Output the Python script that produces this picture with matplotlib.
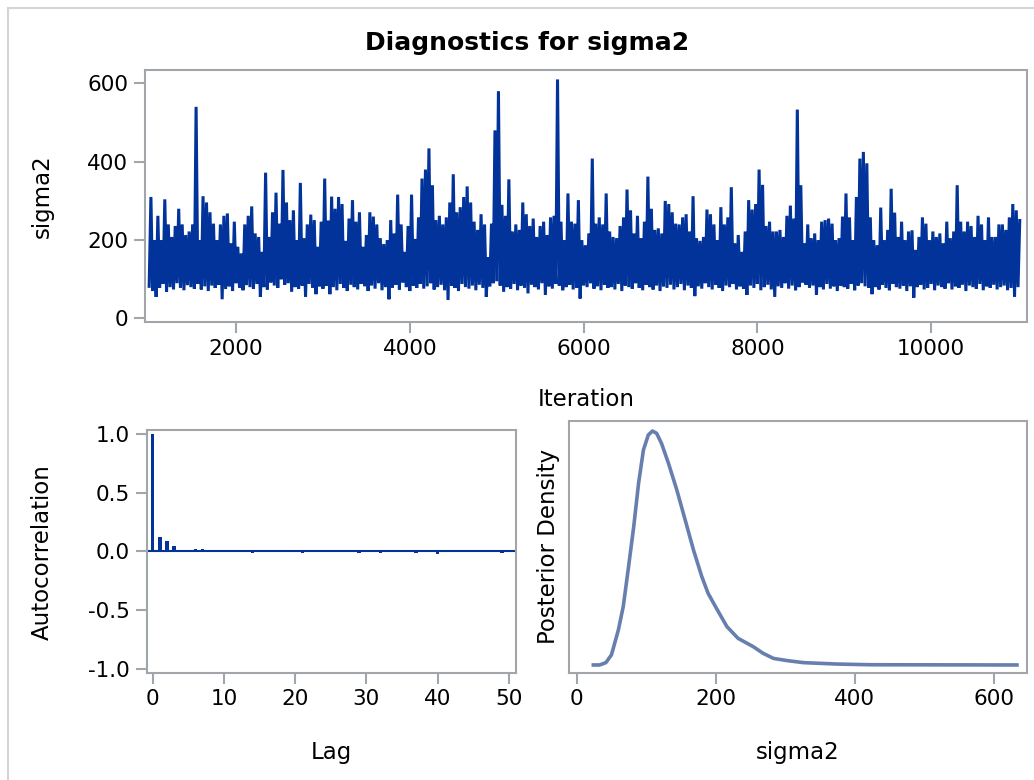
import numpy as np
import matplotlib
matplotlib.use("Agg")
from matplotlib import pyplot as plt
from matplotlib.lines import Line2D

plt.rcParams['font.family'] = ['DejaVu Sans']
plt.rcParams['axes.unicode_minus'] = False

# trace of sigma2: per 40-iteration block, the top and bottom of the band
trace_hi = [
    310, 200, 262, 200, 304, 240, 208, 236, 280, 240,
    213, 222, 240, 540, 200, 312, 296, 271, 242, 200,
    240, 262, 268, 192, 247, 183, 166, 240, 262, 286,
    217, 208, 170, 372, 208, 271, 321, 242, 379, 296,
    251, 276, 200, 346, 205, 240, 265, 251, 183, 247,
    357, 250, 311, 280, 310, 292, 198, 255, 302, 247,
    271, 183, 213, 271, 260, 240, 205, 190, 200, 251,
    217, 316, 240, 170, 236, 316, 203, 258, 357, 380,
    434, 340, 251, 262, 240, 258, 296, 368, 271, 284,
    310, 337, 296, 247, 226, 266, 240, 156, 242, 480,
    580, 290, 262, 355, 222, 240, 226, 296, 266, 236,
    255, 208, 236, 247, 213, 258, 262, 610, 247, 200,
    319, 247, 242, 302, 200, 187, 217, 408, 242, 258,
    240, 319, 222, 208, 205, 236, 258, 329, 276, 217,
    262, 205, 247, 362, 280, 226, 230, 217, 300, 292,
    271, 242, 240, 258, 266, 222, 312, 205, 198, 208,
    278, 266, 240, 200, 284, 240, 258, 335, 192, 213,
    170, 222, 302, 278, 292, 380, 341, 236, 247, 222,
    222, 226, 208, 262, 288, 255, 533, 340, 192, 240,
    205, 217, 200, 247, 251, 255, 242, 200, 205, 260,
    319,
    258, 200, 310, 408, 425, 396, 258, 200, 187, 283,
    200, 226, 331, 270, 208, 247, 200, 222, 225, 175,
    208, 258, 242, 200, 222, 208, 217, 192, 247, 205,
    222, 340, 247, 222, 247, 236, 208, 262, 240, 200,
    258, 208, 208, 240, 240, 226, 258, 292, 276, 250,
]
trace_lo = [
    82, 70, 55, 78, 88, 68, 80, 74, 90, 78,
    72, 85, 80, 76, 88, 74, 82, 70, 84, 78,
    86, 49, 75, 82, 70, 90, 78, 72, 85, 80,
    76, 88, 55, 80, 74, 92, 84, 78, 100, 86,
    90, 68, 80, 76, 84, 55, 88, 78, 62, 82,
    76, 84, 62, 80, 72, 88, 78, 70, 86, 80,
    74, 88, 82, 70, 84, 76, 90, 72, 80, 49,
    78, 86, 74, 92, 80, 70, 84, 78, 88, 76,
    82, 90, 74, 80, 86, 72, 47, 84, 78, 70,
    88, 80, 76, 84, 72, 86, 78, 55, 82, 90,
    95, 84, 68, 80, 76, 88, 72, 84, 78, 64,
    86, 80, 74, 90, 60, 82, 76, 88, 84, 72,
    80, 86, 74, 78, 51, 84, 80, 90, 76, 82,
    72, 86, 78, 80, 74, 88, 70, 84, 80, 76,
    90, 78, 72, 86, 80, 74, 84, 70, 82, 78,
    86, 74, 80, 88, 72, 84, 78, 57, 82, 76,
    90, 80, 74, 86, 78, 70, 84, 80, 88, 74,
    82, 76, 60, 84, 78, 88, 72, 80, 86, 74,
    55, 82, 78, 90, 76, 84, 72, 80, 92, 86,
    78, 84, 60, 80, 74, 88, 76, 82, 70, 84,
    80,
    76, 88, 72, 84, 90, 82, 78, 62, 80, 74,
    86, 78, 72, 88, 80, 76, 84, 70, 82, 53,
    80, 86, 74, 78, 88, 72, 84, 80, 76, 90,
    74, 82, 78, 86, 70, 84, 80, 76, 88, 72,
    82, 78, 86, 74, 80, 84, 72, 78, 55, 80,
]
first_iter = 1000
block = 40

lags = list(range(51))
acf = [
    1.0, 0.123, 0.091, 0.043, 0.014, 0.015, 0.02, 0.02, 0.012, 0.002,
    0.004, 0.01, 0.001, 0.004, -0.01, 0.002, -0.004, 0.012, 0.01, 0.012,
    0.002, -0.012, 0.001, 0.002, 0.002, 0.004, 0.005, 0.001, 0.001, -0.01,
    0.002, -0.008, -0.018, -0.006, 0.001, 0.015, -0.005, -0.014, 0.002, 0.001,
    -0.02, 0.012, 0.003, 0.01, 0.002, -0.003, 0.005, 0.003, 0.002, -0.01,
    0.01,
]

dens_x = [24, 33, 42, 50, 60, 67, 74, 82, 89, 96, 103, 109, 115, 122, 132, 144,
          156, 168, 180, 189, 201, 216, 232, 254, 268, 283, 302, 326, 374, 422, 633]
dens_y = [0, 0, 0.01, 0.043, 0.15, 0.25, 0.406, 0.59, 0.776, 0.919, 0.983, 1.0,
          0.99, 0.947, 0.862, 0.748, 0.62, 0.491, 0.377, 0.306, 0.242, 0.164,
          0.114, 0.078, 0.05, 0.028, 0.019, 0.01, 0.004, 0.001, 0]

BLUE = '#01339A'
FRAME = '#A2A6AB'
W, H = 1034, 780
TICK_FS = 15.5
LABEL_FS = 16.5


def box(l, t, r, b):
    return [l / W, 1 - b / H, (r - l) / W, (b - t) / H]


def style(ax):
    for s in ax.spines.values():
        s.set_color(FRAME)
        s.set_linewidth(1.5)
    ax.tick_params(colors=FRAME, labelcolor='black', length=8, width=1.5,
                   labelsize=TICK_FS, pad=4)


def txt(x, y, s, **kw):
    fig.text(x / W, 1 - y / H, s, ha='center', va='center', **kw)


fig = plt.figure(figsize=(10.34, 7.8), dpi=100)

# outer border
fig.add_artist(Line2D([8.3 / W, 8.3 / W], [0, 1 - 8.3 / H], color='#D4D4D4', lw=1.5))
fig.add_artist(Line2D([8.3 / W, 1], [1 - 8.3 / H, 1 - 8.3 / H], color='#D4D4D4', lw=1.5))

# trace plot
ax1 = fig.add_axes(box(145, 70, 1026.7, 322))
n = len(trace_hi)
it = first_iter + block * np.arange(n)
x = np.empty(2 * n)
y = np.empty(2 * n)
x[0::2] = it
x[1::2] = it + block / 2
y[0::2] = trace_lo
y[1::2] = trace_hi
ax1.plot(x, y, color=BLUE, lw=2.2, solid_joinstyle='miter')
ax1.set_xlim(952, 11100)
ax1.set_ylim(-9, 634)
ax1.set_xticks([2000, 4000, 6000, 8000, 10000])
ax1.set_yticks([0, 200, 400, 600])
style(ax1)

# autocorrelation
ax2 = fig.add_axes(box(146.7, 430, 516, 672.7))
ax2.bar(lags, acf, width=0.5, color=BLUE)
ax2.axhline(0, color=BLUE, lw=1.5)
ax2.set_xlim(-0.84, 51.0)
ax2.set_ylim(-1.034, 1.034)
ax2.set_xticks([0, 10, 20, 30, 40, 50])
ax2.set_yticks([-1.0, -0.5, 0.0, 0.5, 1.0])
ax2.set_yticklabels(['-1.0', '-0.5', '0.0', '0.5', '1.0'])
style(ax2)

# posterior density
ax3 = fig.add_axes(box(569, 420.7, 1026.7, 672.7))
ax3.plot(dens_x, dens_y, color='#667FAE', lw=2.6, solid_joinstyle='round')
ax3.set_xlim(-11, 647)
ax3.set_ylim(-0.033, 1.044)
ax3.set_xticks([0, 200, 400, 600])
ax3.set_yticks([])
style(ax3)

txt(527, 43, 'Diagnostics for sigma2', fontsize=18, fontweight='bold')
txt(42, 196, 'sigma2', fontsize=LABEL_FS, rotation=90)
txt(586, 400, 'Iteration', fontsize=LABEL_FS)
txt(42, 552, 'Autocorrelation', fontsize=LABEL_FS, rotation=90)
txt(331, 752, 'Lag', fontsize=LABEL_FS)
txt(548, 546, 'Posterior Density', fontsize=LABEL_FS, rotation=90)
txt(798, 752, 'sigma2', fontsize=LABEL_FS)

fig.savefig('out.png', dpi=100)
